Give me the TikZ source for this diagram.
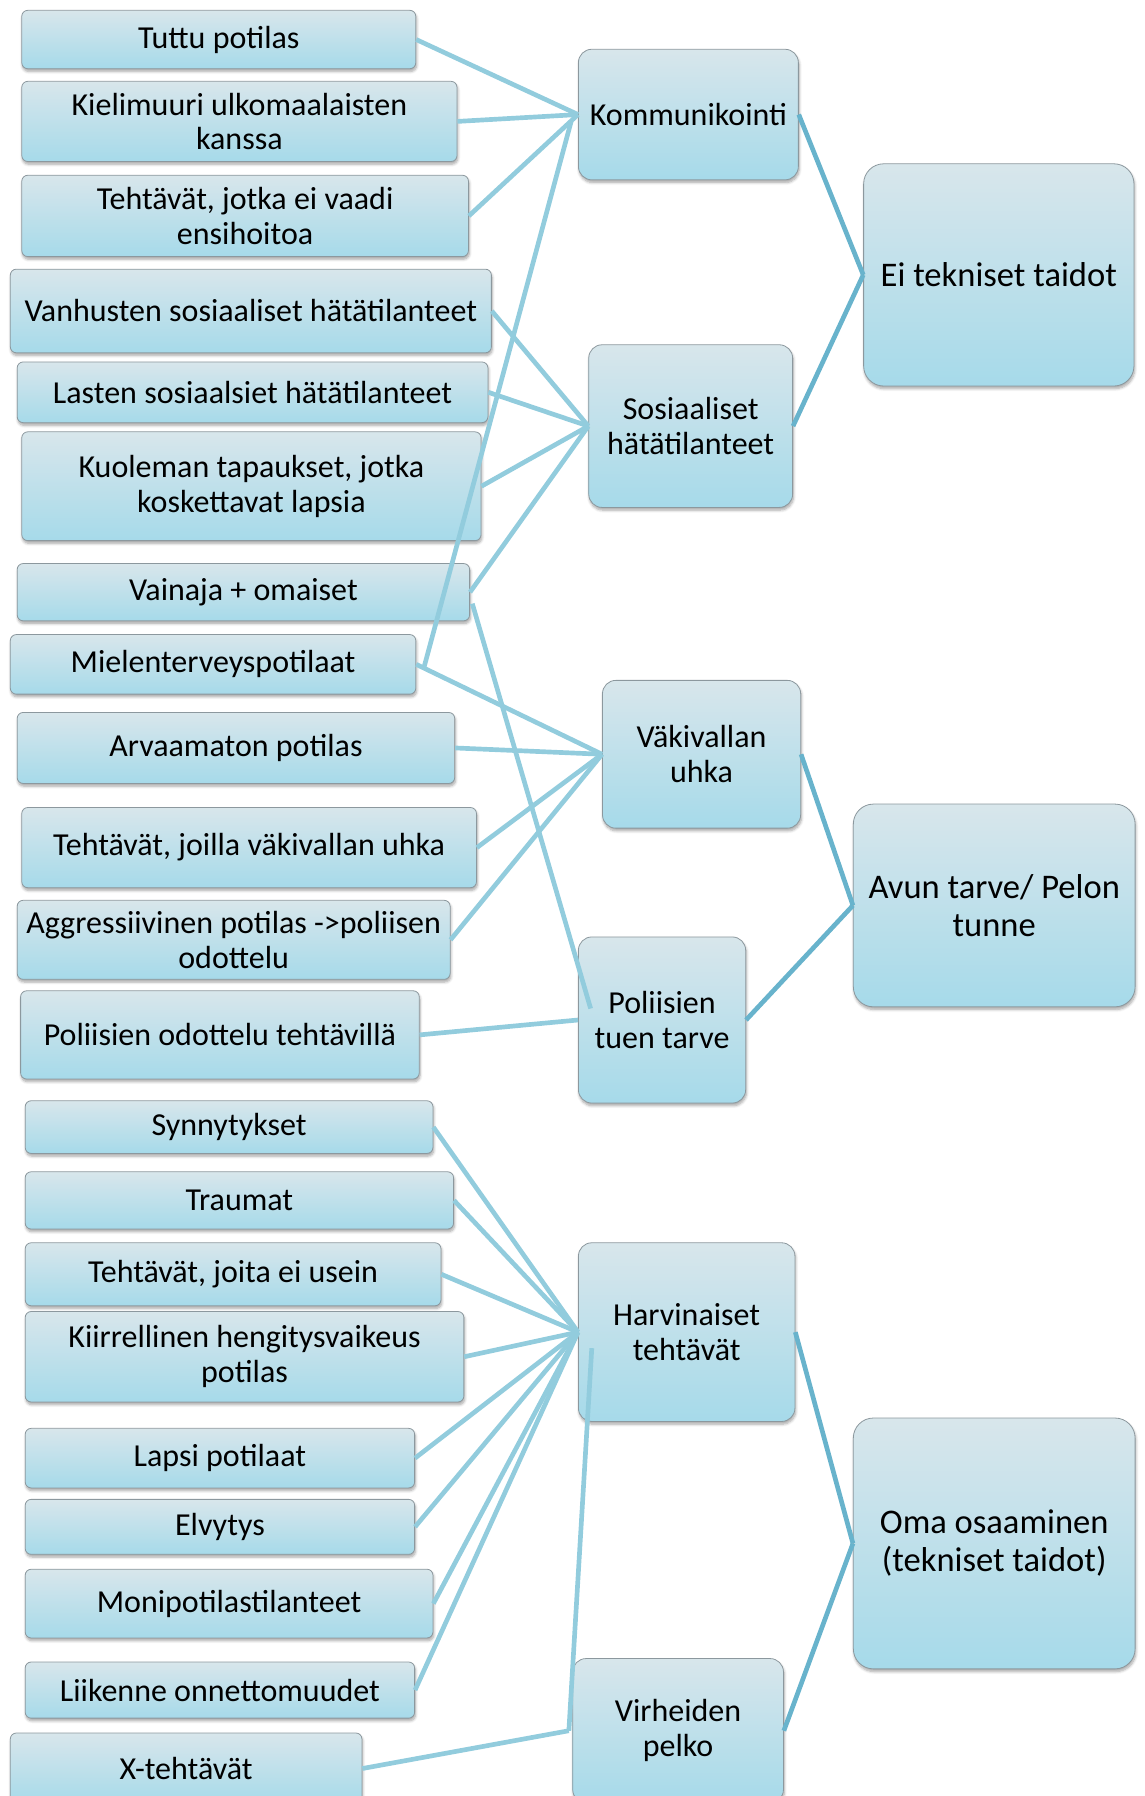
\documentclass[tikz,border=0pt]{standalone}
\usepackage{fontspec}
\setmainfont{Carlito}
\usetikzlibrary{calc,shadows.blur}
\definecolor{boxtop}{RGB}{216,230,235}
\definecolor{boxbot}{RGB}{166,218,234}
\definecolor{boxedge}{RGB}{140,152,158}
\definecolor{linkL}{RGB}{146,204,221}
\definecolor{linkR}{RGB}{104,179,204}
\newcommand\placebox[7]{%
  \pgfmathsetmacro\pbcx{(#2+#4)/2}%
  \pgfmathsetmacro\pbcy{(#3+#5)/2}%
  \pgfmathsetmacro\pbw{(#4-#2)*0.8588}%
  \pgfmathsetmacro\pbh{(#5-#3)*0.8588}%
  \node[#6, minimum width=\pbw pt, minimum height=\pbh pt] (#1) at (\pbcx,\pbcy) {#7};}
\tikzset{
  basebox/.style={draw=boxedge, line width=0.6pt, top color=boxtop, bottom color=boxbot,
    align=center, inner sep=1pt, text=black,
    blur shadow={shadow blur steps=6, shadow xshift=0.6pt, shadow yshift=-2pt, shadow blur radius=2pt, shadow opacity=35}},
  leafbox/.style={basebox, rounded corners=4.5pt, font=\fontsize{24}{26}\selectfont},
  midbox/.style={basebox, rounded corners=10pt, font=\fontsize{24}{26.5}\selectfont},
  topbox/.style={basebox, rounded corners=15pt, font=\fontsize{25.9}{28.5}\selectfont},
  linkl/.style={draw=linkL, line width=3.5pt},
  linkr/.style={draw=linkR, line width=3.5pt}
}
\begin{document}
\begin{tikzpicture}[x=0.8588pt,y=-0.8588pt]
\useasboundingbox (0,0) rectangle (999,1568);
\clip (0,0) rectangle (999,1568);
% left column
\placebox{tuttu}{19}{9}{363}{60}{leafbox}{Tuttu potilas}
\placebox{kieli}{19}{71}{399}{141}{leafbox}{Kielimuuri ulkomaalaisten\\kanssa}
\placebox{ensih}{19}{153}{409}{224}{leafbox}{Tehtävät, jotka ei vaadi\\ensihoitoa}
\placebox{vanh}{9}{235}{429}{308}{leafbox}{Vanhusten sosiaaliset hätätilanteet}
\placebox{lasten}{15}{316}{426}{369}{leafbox}{Lasten sosiaalsiet hätätilanteet}
\placebox{kuol}{19}{377}{420}{472}{leafbox}{Kuoleman tapaukset, jotka\\koskettavat lapsia}
\placebox{vain}{15}{492}{410}{542}{leafbox}{Vainaja + omaiset}
\placebox{miel}{9}{554}{363}{606}{leafbox}{Mielenterveyspotilaat}
\placebox{arva}{15}{622}{397}{684}{leafbox}{Arvaamaton potilas}
\placebox{tvak}{19}{705}{416}{775}{leafbox}{Tehtävät, joilla väkivallan uhka}
\placebox{aggr}{15}{786}{393}{855}{leafbox}{Aggressiivinen potilas ->poliisen\\odottelu}
\placebox{odot}{18}{865}{366}{942}{leafbox}{Poliisien odottelu tehtävillä}
\placebox{synn}{22}{961}{378}{1007}{leafbox}{Synnytykset}
\placebox{trau}{22}{1023}{396}{1073}{leafbox}{Traumat}
\placebox{usein}{22}{1085}{385}{1140}{leafbox}{Tehtävät, joita ei usein}
\placebox{kiir}{22}{1145}{405}{1224}{leafbox}{Kiirrellinen hengitysvaikeus\\potilas}
\placebox{lapsi}{22}{1247}{362}{1299}{leafbox}{Lapsi potilaat}
\placebox{elvy}{22}{1309}{362}{1357}{leafbox}{Elvytys}
\placebox{moni}{22}{1370}{378}{1430}{leafbox}{Monipotilastilanteet}
\placebox{liik}{22}{1451}{362}{1500}{leafbox}{Liikenne onnettomuudet}
\placebox{xteh}{9}{1513}{316}{1575}{leafbox}{X-tehtävät}
% middle column
\placebox{komm}{505}{43}{697}{157}{midbox}{Kommunikointi}
\placebox{sos}{514}{301}{692}{443}{midbox}{Sosiaaliset\\hätätilanteet}
\placebox{vak}{526}{594}{699}{723}{midbox}{Väkivallan\\uhka}
\placebox{pol}{505}{818}{651}{963}{midbox}{Poliisien\\tuen tarve}
\placebox{harv}{505}{1085}{694}{1241}{midbox}{Harvinaiset\\tehtävät}
\placebox{virh}{500}{1448}{684}{1574}{midbox}{Virheiden\\pelko}
% right column
\placebox{eitek}{754}{143}{990}{337}{topbox}{Ei tekniset taidot}
\placebox{avun}{745}{702}{991}{879}{topbox}{Avun tarve/ Pelon\\tunne}
\placebox{oma}{745}{1238}{991}{1457}{topbox}{Oma osaaminen\\(tekniset taidot)}
% connectors left -> middle
\draw[linkl] (tuttu.east) -- (komm.west);
\draw[linkl] (kieli.east) -- (komm.west);
\draw[linkl] (ensih.east) -- (komm.west);
\draw[linkl] ($(miel.east)+(7,2)$) -- ($(komm.west)+(-6,6)$);
\draw[linkl] (vanh.east) -- (sos.west);
\draw[linkl] (lasten.east) -- (sos.west);
\draw[linkl] (kuol.east) -- (sos.west);
\draw[linkl] (vain.east) -- (sos.west);
\draw[linkl] ($(vain.east)+(2,10)$) -- ($(pol.west)+(11,-10)$);
\draw[linkl] (miel.east) -- (vak.west);
\draw[linkl] (arva.east) -- (vak.west);
\draw[linkl] (tvak.east) -- (vak.west);
\draw[linkl] (aggr.east) -- (vak.west);
\draw[linkl] (odot.east) -- (pol.west);
\draw[linkl] (synn.east) -- (harv.west);
\draw[linkl] (trau.east) -- (harv.west);
\draw[linkl] (usein.east) -- (harv.west);
\draw[linkl] (kiir.east) -- (harv.west);
\draw[linkl] (lapsi.east) -- (harv.west);
\draw[linkl] (elvy.east) -- (harv.west);
\draw[linkl] (moni.east) -- (harv.west);
\draw[linkl] (liik.east) -- (harv.west);
\draw[linkl] (xteh.east) -- ($(virh.west)+(-3,0)$);
\draw[linkl] ($(virh.west)+(-3,0)$) -- ($(harv.west)+(12,14)$);
% connectors middle -> right
\draw[linkr] (komm.east) -- (eitek.west);
\draw[linkr] (sos.east) -- (eitek.west);
\draw[linkr] (vak.east) -- (avun.west);
\draw[linkr] (pol.east) -- (avun.west);
\draw[linkr] (harv.east) -- (oma.west);
\draw[linkr] (virh.east) -- (oma.west);
\end{tikzpicture}
\end{document}
